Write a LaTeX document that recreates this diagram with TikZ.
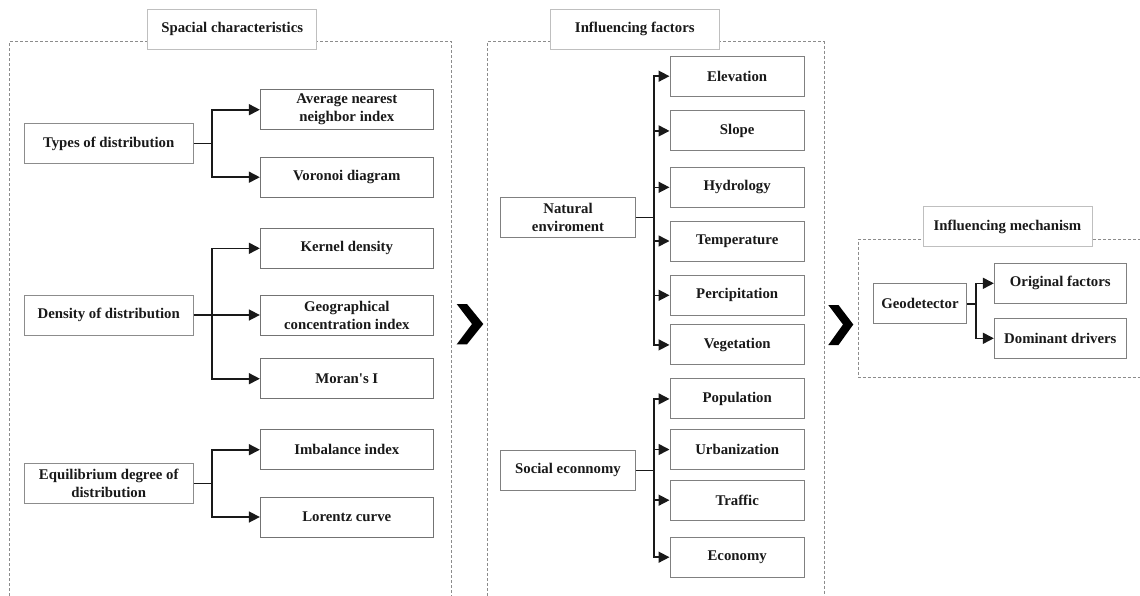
\documentclass[tikz,border=0pt]{standalone}
\usepackage{fontspec}
\setmainfont{Liberation Serif}
\usetikzlibrary{arrows.meta}
\begin{document}
\begin{tikzpicture}[x=1pt,y=-1pt,
  every node/.style={font=\fontsize{14.8}{18}\selectfont\bfseries, text=black!90, align=center, inner sep=0pt},
  titlebox/.style={draw=black!25, fill=white, line width=0.9pt, minimum width=169pt, minimum height=40pt},
  catbox/.style={draw=black!45, fill=white, line width=0.9pt, minimum width=169pt, minimum height=40pt},
  leafbox/.style={draw=black!55, fill=white, line width=0.9pt, minimum width=173pt, minimum height=40pt},
  fbox/.style={draw=black!50, fill=white, line width=0.9pt, minimum width=134.5pt, minimum height=40pt},
  panel/.style={draw=black!45, dashed, dash pattern=on 3pt off 2pt, line width=0.7pt},
  conn/.style={draw=black!90, line width=1.6pt},
  arr/.style={conn, -{Triangle[length=11pt,width=11pt]}},
  chev/.style={fill=black, draw=none}]
\useasboundingbox (0,0) rectangle (1140,595);

% panels
\draw[panel] (9.5,596) -- (9.5,41.7) -- (451.7,41.7) -- (451.7,596);
\draw[panel] (487.3,596) -- (487.3,41.7) -- (824,41.7) -- (824,596);
\draw[panel] (1141,239) -- (858.7,239) -- (858.7,377.7) -- (1141,377.7);

% chevrons
\fill[chev] (456.7,304) -- (467,304) -- (483.3,324) -- (467,344.3) -- (456.7,344.3) -- (472,324) -- cycle;
\fill[chev] (828.3,305) -- (838.5,305) -- (853.3,324.5) -- (838.5,345) -- (828.3,345) -- (843,324.5) -- cycle;

% titles
\node[titlebox] (t1) at (232.2,29.2) {Spacial characteristics};
\node[titlebox] (t2) at (634.8,29.2) {Influencing factors};
\node[titlebox] (t3) at (1007.5,226.6) {Influencing mechanism};

% left panel
\node[catbox] (types) at (108.7,143.5) {Types of distribution};
\node[catbox] (dens) at (108.7,315) {Density of distribution};
\node[catbox] (equi) at (108.7,483.3) {Equilibrium degree of\\distribution};
\node[leafbox] (ann) at (346.8,109.7) {Average nearest\\neighbor index};
\node[leafbox] (vor) at (346.8,177.2) {Voronoi diagram};
\node[leafbox] (ker) at (346.8,248.3) {Kernel density};
\node[leafbox] (geo) at (346.8,315) {Geographical\\concentration index};
\node[leafbox] (mor) at (346.8,378.7) {Moran\textquotesingle s I};
\node[leafbox] (imb) at (346.8,449.7) {Imbalance index};
\node[leafbox] (lor) at (346.8,517) {Lorentz curve};

\coordinate (j1) at (212,143.5);
\coordinate (j2) at (212,315);
\coordinate (j3) at (212,483.3);
\draw[conn] (types.east) -- (j1);
\draw[arr] (j1) |- (ann.west);
\draw[arr] (j1) |- (vor.west);
\draw[arr] (dens.east) -- (geo.west);
\draw[arr] (j2) |- (ker.west);
\draw[arr] (j2) |- (mor.west);
\draw[conn] (equi.east) -- (j3);
\draw[arr] (j3) |- (imb.west);
\draw[arr] (j3) |- (lor.west);

% middle panel
\node[fbox] (nat) at (568,217.3) {Natural\\enviroment};
\node[fbox] (soc) at (568,470.3) {Social econnomy};
\node[fbox] (ele) at (737.2,76.2) {Elevation};
\node[fbox] (slo) at (737.2,130.9) {Slope};
\node[fbox] (hyd) at (737.2,187.3) {Hydrology};
\node[fbox] (tem) at (737.2,241) {Temperature};
\node[fbox] (per) at (737.2,295.3) {Percipitation};
\node[fbox] (veg) at (737.2,344.9) {Vegetation};
\node[fbox] (pop) at (737.2,398.9) {Population};
\node[fbox] (urb) at (737.2,449.5) {Urbanization};
\node[fbox] (tra) at (737.2,500.2) {Traffic};
\node[fbox] (eco) at (737.2,557.2) {Economy};

\coordinate (jn) at (653.7,217.3);
\coordinate (js) at (653.7,470.3);
\draw[conn] (nat.east) -- (jn);
\foreach \n in {ele,slo,hyd,tem,per,veg} \draw[arr] (jn) |- (\n.west);
\draw[conn] (soc.east) -- (js);
\foreach \n in {pop,urb,tra,eco} \draw[arr] (js) |- (\n.west);

% right panel
\node[fbox, minimum width=93.4pt] (gd) at (920,303.7) {Geodetector};
\node[fbox, minimum width=132pt] (orig) at (1060.3,283.3) {Original factors};
\node[fbox, minimum width=132pt] (dom) at (1060.3,338.3) {Dominant drivers};
\coordinate (jg) at (975.7,303.7);
\draw[conn] (gd.east) -- (jg);
\draw[arr] (jg) |- (orig.west);
\draw[arr] (jg) |- (dom.west);
\end{tikzpicture}
\end{document}
